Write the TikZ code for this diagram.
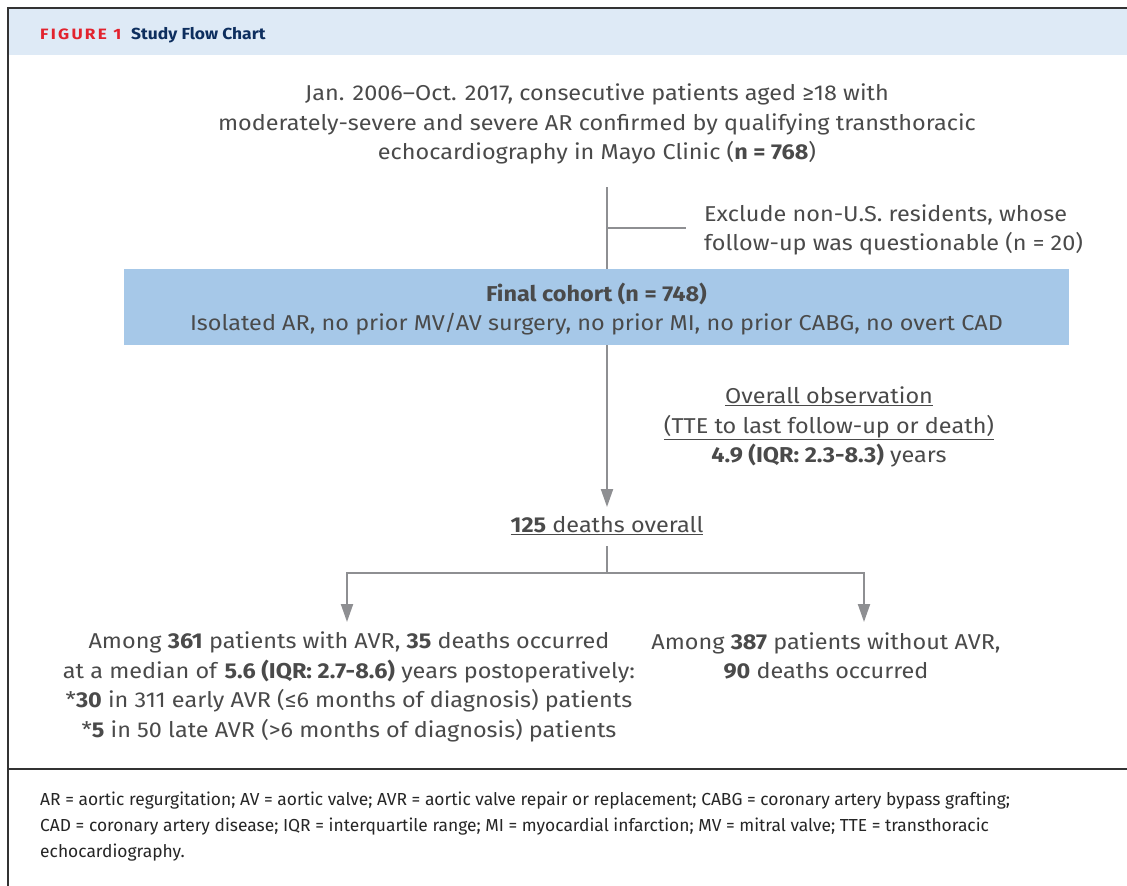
\documentclass[tikz,border=0pt]{standalone}
\usepackage{fontspec}
\setmainfont[FakeStretch=1.09]{Fira Sans}
\usetikzlibrary{arrows.meta}
\definecolor{hdr}{HTML}{DEEAF6}
\definecolor{boxblue}{HTML}{A6C8E8}
\definecolor{txt}{HTML}{4A4A4A}
\definecolor{lin}{HTML}{8E8F92}
\definecolor{figred}{HTML}{E2232E}
\definecolor{navy}{HTML}{0D2E5E}
\newfontfamily\spacedfont[LetterSpace=15,FakeStretch=1.15]{Fira Sans}
\newfontfamily\footfont{Fira Sans}
\tikzset{
  frame/.style={line width=2pt, draw=black!80},
  conn/.style={line width=2pt, draw=lin},
  arr/.style={conn, -{Triangle[width=12pt,length=18pt]}, lin},
  body/.style={text=txt, align=center, inner sep=0pt, font=\fontsize{21.5}{29.5}\selectfont},
  foot/.style={text=black!85, align=left, inner sep=0pt, anchor=north west, font=\footfont\fontsize{17.4}{26}\selectfont},
}
\begin{document}
\begin{tikzpicture}[x=1pt,y=-1pt]
\useasboundingbox (0,0) rectangle (1127,886);
\fill[white] (0,0) rectangle (1127,886);
\fill[hdr] (9,9) rectangle (1127,55);
\draw[frame] (1127,8) -- (8,8) -- (8,886);
\draw[frame] (8,769) -- (1127,769);

\node[anchor=base west, inner sep=0pt, text=figred, font=\spacedfont\bfseries\fontsize{15}{16}\selectfont] (fig) at (40,39) {FIGURE 1};
\node[anchor=base west, inner sep=0pt, text=navy, font=\bfseries\fontsize{16}{18}\selectfont] (ttl) at (131,39) {Study Flow Chart};

\node[body] (top) at (597,124) {Jan. 2006--Oct. 2017, consecutive patients aged ≥18 with\\
moderately-severe and severe AR confirmed by qualifying transthoracic\\
echocardiography in Mayo Clinic (\textbf{n = 768})};

\node[body, align=left, anchor=west] (ex) at (704,230) {Exclude non-U.S. residents, whose\\follow-up was questionable (n = 20)};

\node[fill=boxblue, minimum width=945pt, minimum height=76pt, inner sep=0pt] (fc) at (596.5,307) {};
\node[body] (fct) at ([yshift=-2pt]fc.center) {\textbf{Final cohort (n = 748)}\\Isolated AR, no prior MV/AV surgery, no prior MI, no prior CABG, no overt CAD};

\node[body] (obs) at (829,427) {\underline{Overall observation}\\\underline{(TTE to last follow-up or death)}\\\textbf{4.9 (IQR: 2.3-8.3)} years};

\node[body] (d) at (607,526) {\underline{\textbf{125} deaths overall}};

\node[body] (l) at (349,687) {Among \textbf{361} patients with AVR, \textbf{35} deaths occurred\\
at a median of \textbf{5.6 (IQR: 2.7-8.6)} years postoperatively:\\
*\textbf{30} in 311 early AVR (≤6 months of diagnosis) patients\\
*\textbf{5} in 50 late AVR (>6 months of diagnosis) patients};

\node[body] (r) at (826,656) {Among \textbf{387} patients without AVR,\\\textbf{90} deaths occurred};

\coordinate (s1) at (607,187);
\coordinate (b1) at (607,228);
\coordinate (s2) at (607,345);
\coordinate (a2) at (607,507);
\coordinate (s3) at (607,546);
\coordinate (b3) at (607,573);
\coordinate (la) at (347,622);
\coordinate (ra) at (864,622);

\draw[conn] (s1) -- (fc.north -| s1);
\draw[conn] (b1) -- (686,228);
\draw[arr] (s2) -- (a2);
\draw[conn] (s3) -- (b3);
\draw[arr] (b3) -| (la);
\draw[arr] (b3) -| (ra);

\node[foot] (ft) at (40,792) {AR = aortic regurgitation; AV = aortic valve; AVR = aortic valve repair or replacement; CABG = coronary artery bypass grafting;\\
CAD = coronary artery disease; IQR = interquartile range; MI = myocardial infarction; MV = mitral valve; TTE = transthoracic\\
echocardiography.};
\end{tikzpicture}
\end{document}
